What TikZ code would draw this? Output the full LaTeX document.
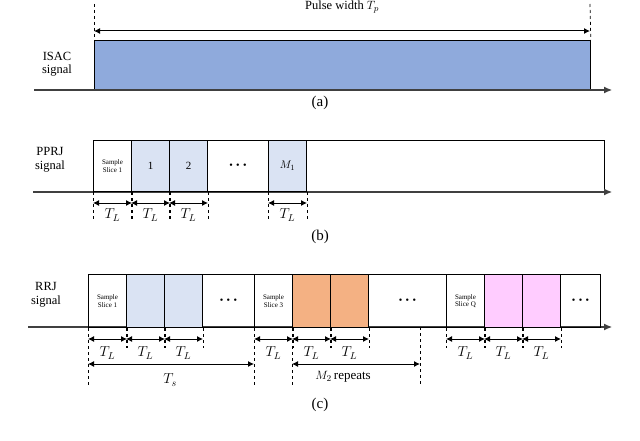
\documentclass[tikz,border=0pt]{standalone}
\usepackage{fontspec}
\setmainfont{Liberation Serif}
\usetikzlibrary{arrows.meta}
\definecolor{isac}{HTML}{8FAADC}
\definecolor{lb}{HTML}{DAE3F3}
\definecolor{org}{HTML}{F4B183}
\definecolor{pnk}{HTML}{FFCCFF}
\newcommand{\mydots}{\fontsize{10}{10}\selectfont\textbullet\,\,\textbullet\,\,\textbullet}
\begin{document}
\begin{tikzpicture}[x=1pt,y=-1pt,
 cell/.style={draw,line width=1pt,minimum height=51pt,inner sep=0pt,anchor=north west,font=\fontsize{7}{7.5}\selectfont,align=center},
 axis/.style={draw=black!75,line width=1.1pt,-{Latex[length=8pt,width=7pt]}},
 dim/.style={line width=1pt,{Latex[length=6pt,width=6pt]}-{Latex[length=6pt,width=6pt]}},
 dsh/.style={dashed,line width=0.7pt},
 lab/.style={font=\fontsize{12.5}{13.5}\selectfont,align=center},
 tl/.style={font=\itshape\fontsize{14}{15}\selectfont}]
\useasboundingbox (0,0) rectangle (640,441);
% (a)
\node[draw,line width=0.8pt,fill=isac,minimum width=496pt,minimum height=50pt,inner sep=0pt,anchor=north west] (isac) at (94,40) {};
\coordinate (a0) at (34,90); \coordinate (a1) at (612,90);
\draw[axis] (a0) -- (a1);
\coordinate (p0t) at (94,4); \coordinate (p1t) at (590,4);
\draw[dsh] (p0t) -- (isac.north west); \draw[dsh] (p1t) -- (isac.north east);
\coordinate (p0) at (94,31); \coordinate (p1) at (590,31);
\draw[dim] (p0) -- (p1);
\node[lab] (pw) at (342,7) {Pulse width $T_p$};
\node[lab] (isacl) at (57,64) {ISAC\\signal};
\node[lab,font=\fontsize{15}{16}\selectfont] (la) at (320,103) {(a)};
% (b)
\node[cell,minimum width=511pt] (bbox) at (93,140) {};
\coordinate (b0) at (33,192); \coordinate (b1) at (612,192);
\draw[axis] (b0) -- (b1);
\node[cell,minimum width=38pt] (b1c) at (93,140) {Sample\\Slice 1};
\node[cell,minimum width=38pt,fill=lb,font=\fontsize{11}{12}\selectfont] (b2c) at (131,140) {1};
\node[cell,minimum width=38pt,fill=lb,font=\fontsize{11}{12}\selectfont] (b3c) at (169,140) {2};
\node[cell,minimum width=61pt] (b4c) at (207,140) {\mydots};
\node[cell,minimum width=38pt,fill=lb,font=\fontsize{11}{12}\selectfont] (b5c) at (268,140) {$M_1$};
\foreach \c in {b1c,b2c,b3c,b5c}{
 \coordinate (\c l) at ([yshift=-30pt]\c.south west);
 \coordinate (\c r) at ([yshift=-30pt]\c.south east);
 \draw[dsh] (\c.south west) -- (\c l);
 \draw[dsh] (\c.south east) -- (\c r);
 \draw[dim] ([yshift=-11pt]\c.south west) -- ([yshift=-11pt]\c.south east);
 \node[tl] (\c t) at ([yshift=-23pt]\c.south) {$T_L$};
}
\node[lab] (ppl) at (50,160) {PPRJ\\signal};
\node[lab,font=\fontsize{15}{16}\selectfont] (lb) at (320,237) {(b)};
% (c)
\node[cell,minimum width=512pt,minimum height=53pt] (cbox) at (88,274) {};
\coordinate (c0) at (28,327); \coordinate (c1) at (612,327);
\draw[axis] (c0) -- (c1);
\node[cell,minimum width=38pt,minimum height=53pt] (c1c) at (88,274) {Sample\\Slice 1};
\node[cell,minimum width=38pt,minimum height=53pt,fill=lb] (c2c) at (126,274) {};
\node[cell,minimum width=38pt,minimum height=53pt,fill=lb] (c3c) at (164,274) {};
\node[cell,minimum width=52pt,minimum height=53pt] (c4c) at (202,274) {\mydots};
\node[cell,minimum width=38pt,minimum height=53pt] (c5c) at (254,274) {Sample\\Slice 3};
\node[cell,minimum width=38pt,minimum height=53pt,fill=org] (c6c) at (292,274) {};
\node[cell,minimum width=38pt,minimum height=53pt,fill=org] (c7c) at (330,274) {};
\node[cell,minimum width=78pt,minimum height=53pt] (c8c) at (368,274) {\mydots};
\node[cell,minimum width=38pt,minimum height=53pt] (c9c) at (446,274) {Sample\\Slice Q};
\node[cell,minimum width=38pt,minimum height=53pt,fill=pnk] (c10c) at (484,274) {};
\node[cell,minimum width=38pt,minimum height=53pt,fill=pnk] (c11c) at (522,274) {};
\node[cell,minimum width=40pt,minimum height=53pt] (c12c) at (560,274) {\mydots};
\foreach \c in {c1c,c2c,c3c,c5c,c6c,c7c,c9c,c10c,c11c}{
 \coordinate (\c l) at ([yshift=-20pt]\c.south west);
 \coordinate (\c r) at ([yshift=-20pt]\c.south east);
 \draw[dsh] (\c.south west) -- (\c l);
 \draw[dsh] (\c.south east) -- (\c r);
 \draw[dim] ([yshift=-11pt]\c.south west) -- ([yshift=-11pt]\c.south east);
 \node[tl] (\c t) at ([yshift=-25pt]\c.south) {$T_L$};
}
\coordinate (e1) at (88,386); \coordinate (e2) at (254,386);
\coordinate (e3) at (292,386); \coordinate (e4) at (420,386);
\coordinate (e4t) at (420,327);
\draw[dsh] (c1c.south west) -- (e1);
\draw[dsh] (c5c.south west) -- (e2);
\draw[dsh] (c6c.south west) -- (e3);
\draw[dsh] (e4t) -- (e4);
\coordinate (ts0) at (88,364); \coordinate (ts1) at (254,364);
\draw[dim] (ts0) -- (ts1);
\coordinate (m0) at (292,364); \coordinate (m1) at (420,364);
\draw[dim] (m0) -- (m1);
\node[tl] (tsl) at (170,380) {$T_s$};
\node[font=\fontsize{13}{14}\selectfont] (ml) at (343,377) {$M_2$\,repeats};
\node[lab] (rrl) at (46,295) {RRJ\\signal};
\node[lab,font=\fontsize{15}{16}\selectfont] (lc) at (320,405) {(c)};
\end{tikzpicture}
\end{document}
